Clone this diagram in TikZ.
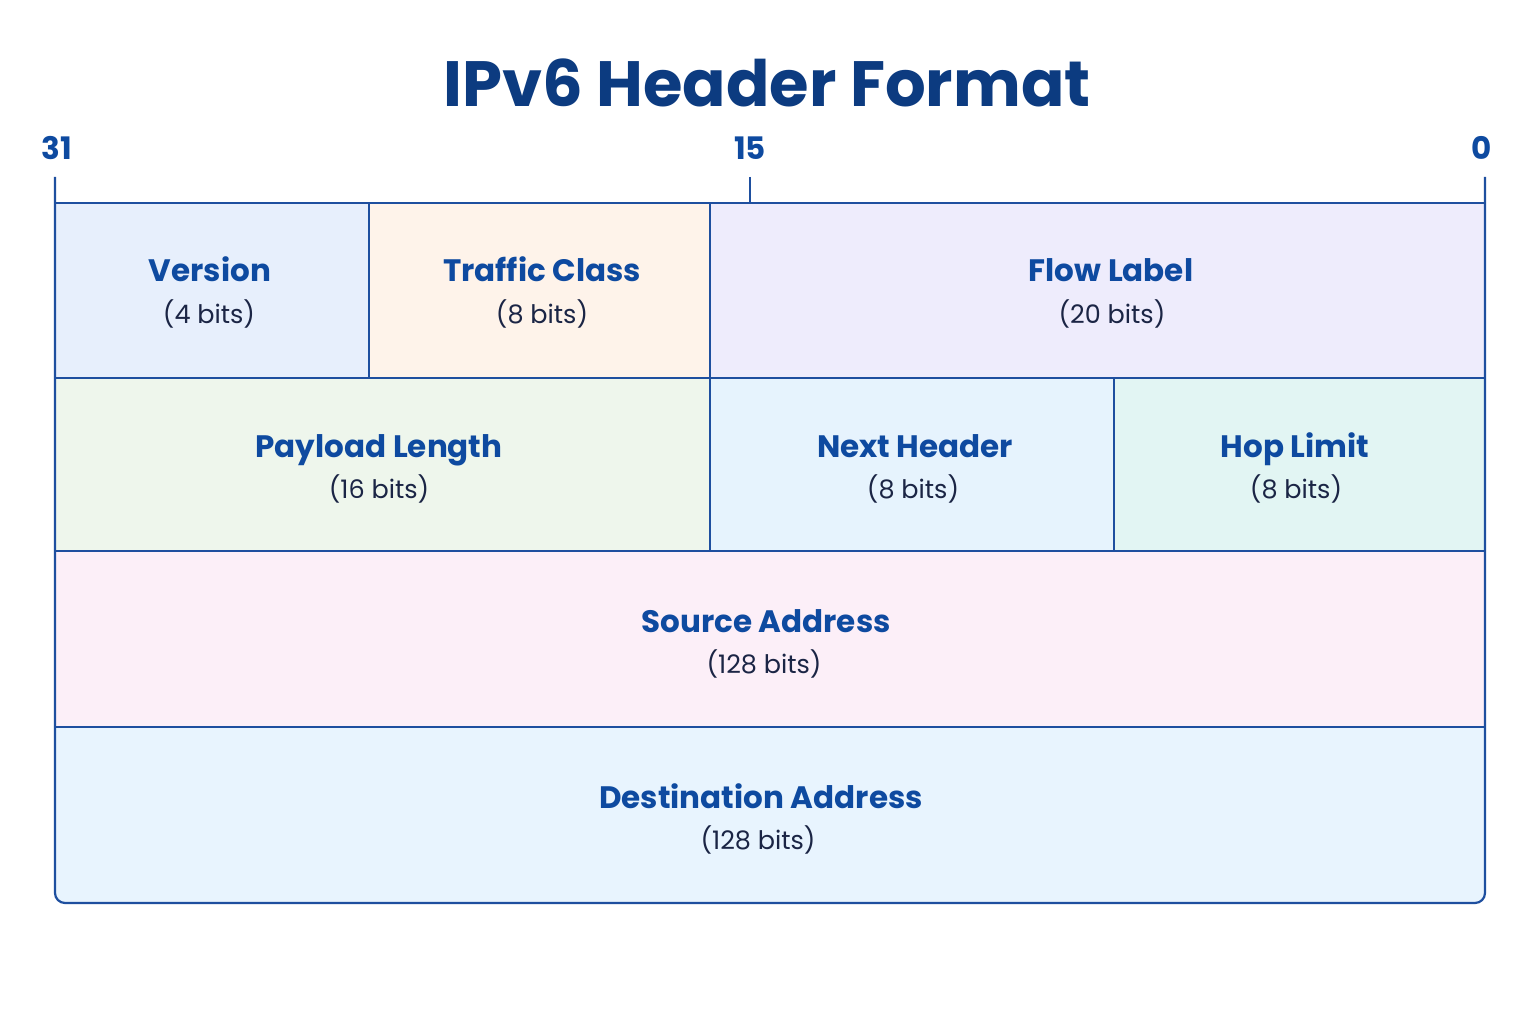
\documentclass[tikz,border=0pt]{standalone}
\usepackage{fontspec}
\setmainfont{Poppins}
\definecolor{lineblue}{HTML}{1E4F9F}
\definecolor{titleblue}{HTML}{0C3B80}
\definecolor{labblue}{HTML}{0E4AA0}
\definecolor{subtxt}{HTML}{1B2545}
\definecolor{cVer}{HTML}{E7EFFC}
\definecolor{cTra}{HTML}{FEF3EA}
\definecolor{cFlo}{HTML}{EEECFC}
\definecolor{cPay}{HTML}{EEF6EC}
\definecolor{cNex}{HTML}{E6F3FD}
\definecolor{cHop}{HTML}{E2F5F3}
\definecolor{cSrc}{HTML}{FCEFF8}
\definecolor{cDst}{HTML}{E8F4FE}
\begin{document}
\begin{tikzpicture}[x=1pt,y=-1pt,
  grid/.style={draw=lineblue,line width=2.2pt},
  lab/.style={anchor=base,inner sep=0pt,text=labblue,font=\fontsize{31}{36}\selectfont\bfseries},
  sub/.style={anchor=base,inner sep=0pt,text=subtxt,font=\fontsize{25.5}{30}\selectfont},
  bitnum/.style={anchor=base,inner sep=0pt,text=labblue,font=\fontsize{31}{36}\selectfont\bfseries},
  ttl/.style={anchor=base,inner sep=0pt,text=titleblue,font=\fontsize{64}{72}\selectfont\bfseries}]
\useasboundingbox[fill=white] (0,0) rectangle (1536,1024);
% fills
\fill[cDst,rounded corners=10pt] (55,700) rectangle (1485,903);
\fill[cSrc] (55,551) rectangle (1485,727);
\fill[cVer] (55,203) rectangle (369,378);
\fill[cTra] (369,203) rectangle (710,378);
\fill[cFlo] (710,203) rectangle (1485,378);
\fill[cPay] (55,378) rectangle (710,551);
\fill[cNex] (710,378) rectangle (1114,551);
\fill[cHop] (1114,378) rectangle (1485,551);
% grid
\draw[grid,rounded corners=10pt] (55,177) -- (55,903) -- (1485,903) -- (1485,177);
\draw[grid] (55,203) -- (1485,203);
\draw[grid] (750,177) -- (750,203);
\draw[grid] (55,378) -- (1485,378);
\draw[grid] (55,551) -- (1485,551);
\draw[grid] (55,727) -- (1485,727);
\draw[grid] (369,203) -- (369,378);
\draw[grid] (710,203) -- (710,551);
\draw[grid] (1114,378) -- (1114,551);
% title and bit numbers
\node[ttl] (title) at (767,107) {IPv6 Header Format};
\node[bitnum] (b31) at (57,160) {31};
\node[bitnum] (b15) at (750,160) {15};
\node[bitnum] (b0) at (1482,160) {0};
% labels
\node[lab] (ver) at (210,282) {Version};
\node[sub] (verb) at (209,323) {(4 bits)};
\node[lab] (tra) at (542,282) {Traffic Class};
\node[sub] (trab) at (542,323) {(8 bits)};
\node[lab] (flo) at (1111,282) {Flow Label};
\node[sub] (flob) at (1112,323) {(20 bits)};
\node[lab] (pay) at (379,457) {Payload Length};
\node[sub] (payb) at (379,498) {(16 bits)};
\node[lab] (nex) at (915,457) {Next Header};
\node[sub] (nexb) at (913,498) {(8 bits)};
\node[lab] (hop) at (1295,457) {Hop Limit};
\node[sub] (hopb) at (1296,498) {(8 bits)};
\node[lab] (src) at (766,632) {Source Address};
\node[sub] (srcb) at (764,673) {(128 bits)};
\node[lab] (dst) at (761,808) {Destination Address};
\node[sub] (dstb) at (758,849) {(128 bits)};
\end{tikzpicture}
\end{document}
